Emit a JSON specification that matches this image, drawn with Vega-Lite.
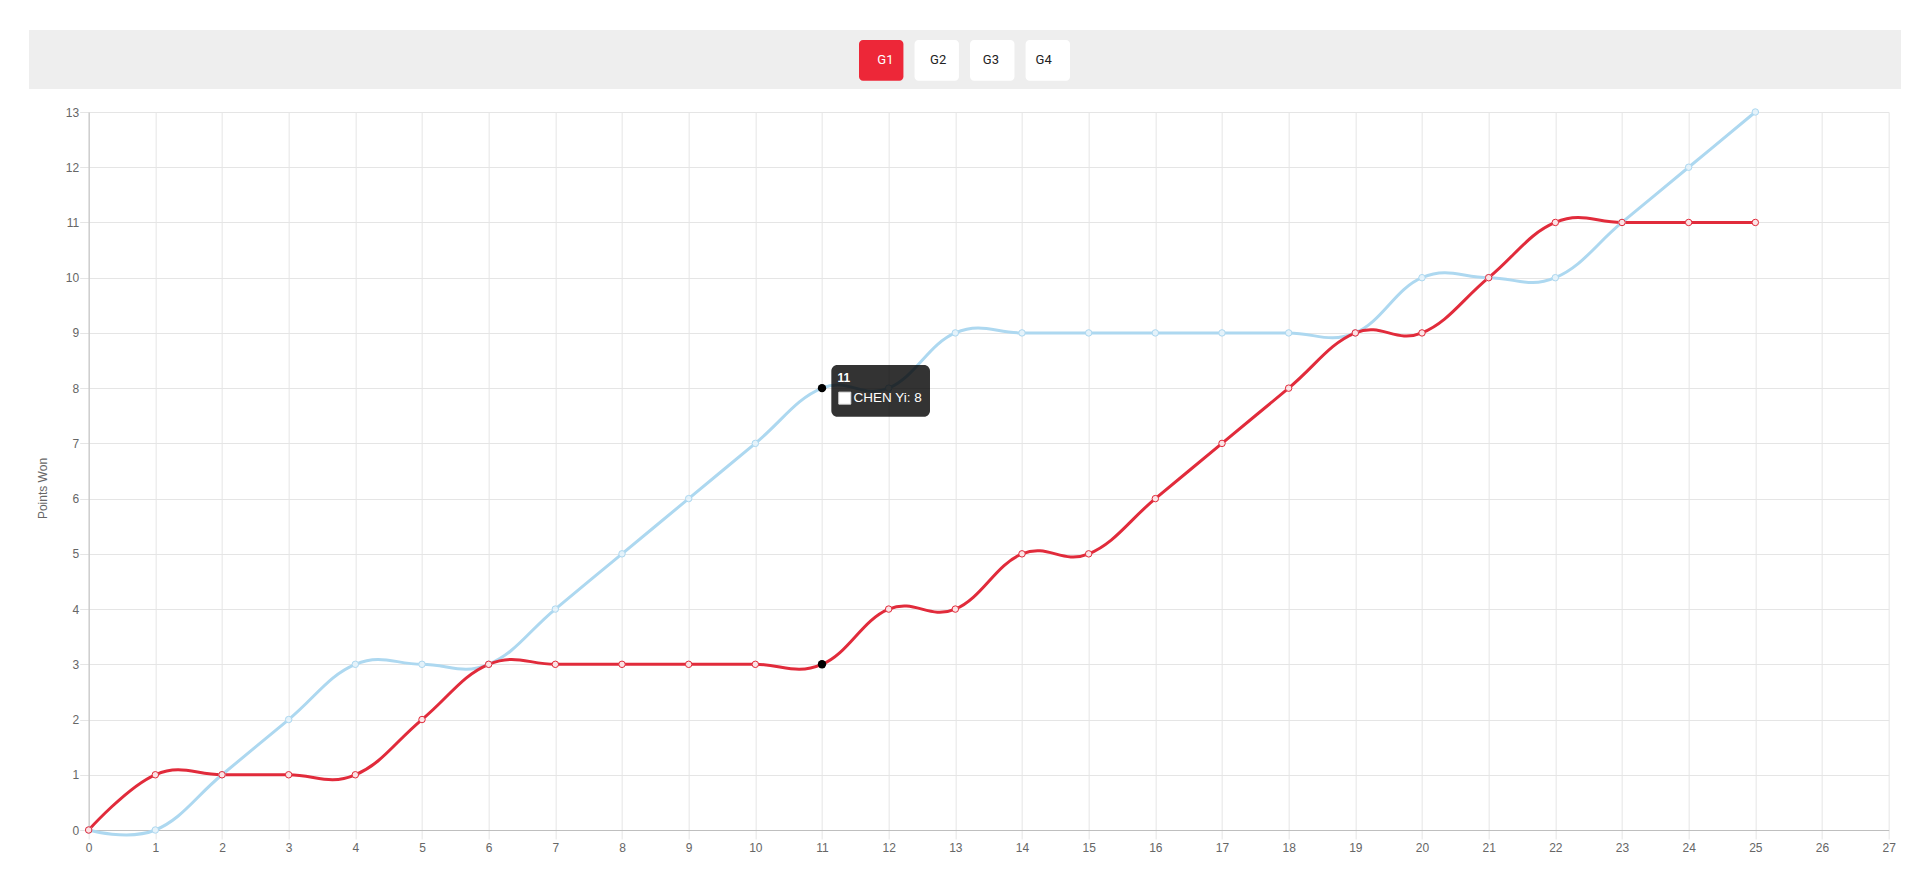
{
  "$schema": "https://vega.github.io/schema/vega-lite/v6.json",
  "padding": {"left": 29, "top": 30, "right": 0, "bottom": 0},
  "background": "white",
  "spacing": 17,
  "center": true,
  "resolve": {"scale": {"color": "independent"}},
  "config": {
    "font": "Liberation Sans",
    "view": {"stroke": null}
  },
  "datasets": {
    "games": [
      {"game": "G1", "selected": true},
      {"game": "G2", "selected": false},
      {"game": "G3", "selected": false},
      {"game": "G4", "selected": false}
    ],
    "points": [
      {"point": 0, "player": "CHEN Yi", "won": 0},
      {"point": 1, "player": "CHEN Yi", "won": 0},
      {"point": 2, "player": "CHEN Yi", "won": 1},
      {"point": 3, "player": "CHEN Yi", "won": 2},
      {"point": 4, "player": "CHEN Yi", "won": 3},
      {"point": 5, "player": "CHEN Yi", "won": 3},
      {"point": 6, "player": "CHEN Yi", "won": 3},
      {"point": 7, "player": "CHEN Yi", "won": 4},
      {"point": 8, "player": "CHEN Yi", "won": 5},
      {"point": 9, "player": "CHEN Yi", "won": 6},
      {"point": 10, "player": "CHEN Yi", "won": 7},
      {"point": 11, "player": "CHEN Yi", "won": 8},
      {"point": 12, "player": "CHEN Yi", "won": 8},
      {"point": 13, "player": "CHEN Yi", "won": 9},
      {"point": 14, "player": "CHEN Yi", "won": 9},
      {"point": 15, "player": "CHEN Yi", "won": 9},
      {"point": 16, "player": "CHEN Yi", "won": 9},
      {"point": 17, "player": "CHEN Yi", "won": 9},
      {"point": 18, "player": "CHEN Yi", "won": 9},
      {"point": 19, "player": "CHEN Yi", "won": 9},
      {"point": 20, "player": "CHEN Yi", "won": 10},
      {"point": 21, "player": "CHEN Yi", "won": 10},
      {"point": 22, "player": "CHEN Yi", "won": 10},
      {"point": 23, "player": "CHEN Yi", "won": 11},
      {"point": 24, "player": "CHEN Yi", "won": 12},
      {"point": 25, "player": "CHEN Yi", "won": 13},
      {"point": 0, "player": "Opponent", "won": 0},
      {"point": 1, "player": "Opponent", "won": 1},
      {"point": 2, "player": "Opponent", "won": 1},
      {"point": 3, "player": "Opponent", "won": 1},
      {"point": 4, "player": "Opponent", "won": 1},
      {"point": 5, "player": "Opponent", "won": 2},
      {"point": 6, "player": "Opponent", "won": 3},
      {"point": 7, "player": "Opponent", "won": 3},
      {"point": 8, "player": "Opponent", "won": 3},
      {"point": 9, "player": "Opponent", "won": 3},
      {"point": 10, "player": "Opponent", "won": 3},
      {"point": 11, "player": "Opponent", "won": 3},
      {"point": 12, "player": "Opponent", "won": 4},
      {"point": 13, "player": "Opponent", "won": 4},
      {"point": 14, "player": "Opponent", "won": 5},
      {"point": 15, "player": "Opponent", "won": 5},
      {"point": 16, "player": "Opponent", "won": 6},
      {"point": 17, "player": "Opponent", "won": 7},
      {"point": 18, "player": "Opponent", "won": 8},
      {"point": 19, "player": "Opponent", "won": 9},
      {"point": 20, "player": "Opponent", "won": 9},
      {"point": 21, "player": "Opponent", "won": 10},
      {"point": 22, "player": "Opponent", "won": 11},
      {"point": 23, "player": "Opponent", "won": 11},
      {"point": 24, "player": "Opponent", "won": 11},
      {"point": 25, "player": "Opponent", "won": 11}
    ],
    "tooltip": [
      {"point": 11, "won": 8, "header": "11", "label": "CHEN Yi: 8"}
    ]
  },
  "vconcat": [
    {
      "width": 1926,
      "height": 59,
      "view": {"stroke": null},
      "data": {"name": "games"},
      "resolve": {"scale": {"x": "independent"}},
      "layer": [
        {
          "mark": {"type": "bar", "color": "#eeeeee"},
          "encoding": {
            "x": {"datum": 0, "type": "quantitative", "scale": {"domain": [0, 1], "nice": false}, "axis": null},
            "x2": {"datum": 0.97196},
            "y": {"datum": 0, "type": "quantitative", "scale": {"domain": [0, 1]}, "axis": null},
            "y2": {"datum": 1}
          }
        },
        {
          "mark": {"type": "bar", "cornerRadius": 4},
          "encoding": {
            "x": {
              "field": "game",
              "type": "nominal",
              "axis": null,
              "scale": {"range": [830, 1041], "paddingInner": 0.2, "paddingOuter": 0}
            },
            "y": {"datum": 0.83, "type": "quantitative", "axis": null},
            "y2": {"datum": 0.14},
            "color": {
              "condition": {"test": "datum.selected", "value": "#ed2738"},
              "value": "#ffffff"
            }
          }
        },
        {
          "mark": {"type": "text", "fontSize": 13, "font": "Roboto", "baseline": "middle", "align": "center"},
          "encoding": {
            "x": {
              "field": "game",
              "type": "nominal",
              "axis": null,
              "scale": {"range": [830, 1041], "paddingInner": 0.2, "paddingOuter": 0}
            },
            "y": {"datum": 0.49, "type": "quantitative"},
            "text": {"field": "game"},
            "color": {
              "condition": {"test": "datum.selected", "value": "#ffffff"},
              "value": "#222222"
            }
          }
        }
      ]
    },
    {
      "width": 1800,
      "height": 718,
      "encoding": {
        "x": {
          "field": "point",
          "type": "quantitative",
          "scale": {"domain": [0, 27], "nice": false},
          "axis": {
            "title": null,
            "values": [0,1,2,3,4,5,6,7,8,9,10,11,12,13,14,15,16,17,18,19,20,21,22,23,24,25,26,27],
            "gridColor": "#e5e5e5",
            "tickColor": "#e5e5e5",
            "tickSize": 9,
            "domainColor": "#bfbfbf",
            "labelColor": "#666666",
            "labelFontSize": 12,
            "labelPadding": 3,
            "labelFlush": false
          }
        },
        "y": {
          "field": "won",
          "type": "quantitative",
          "scale": {"domain": [0, 13], "nice": false},
          "axis": {
            "title": "Points Won",
            "titleFontWeight": "normal",
            "titleFontSize": 12,
            "titleColor": "#666666",
            "titlePadding": 16,
            "titleY": 376,
            "values": [0,1,2,3,4,5,6,7,8,9,10,11,12,13],
            "gridColor": "#e5e5e5",
            "tickColor": "#e5e5e5",
            "tickSize": 9,
            "domainColor": "#bfbfbf",
            "labelColor": "#666666",
            "labelFontSize": 12,
            "labelPadding": 1,
            "labelFlush": false
          }
        }
      },
      "layer": [
        {
          "data": {"name": "points"},
          "mark": {"type": "line", "interpolate": "cardinal", "tension": -0.2, "strokeWidth": 3},
          "encoding": {
            "color": {
              "field": "player",
              "type": "nominal",
              "scale": {"domain": ["CHEN Yi", "Opponent"], "range": ["#add8f0", "#e12b3b"]},
              "legend": null
            }
          }
        },
        {
          "data": {"name": "points"},
          "mark": {"type": "point", "shape": "circle", "size": 42, "strokeWidth": 1, "filled": false, "opacity": 1},
          "encoding": {
            "stroke": {
              "condition": {"test": "datum.player == 'CHEN Yi'", "value": "#add8f0"},
              "value": "#e12b3b"
            },
            "fill": {
              "condition": {"test": "datum.player == 'CHEN Yi'", "value": "#e4f2fa"},
              "value": "#fbe3e5"
            }
          }
        },
        {
          "data": {"name": "points"},
          "transform": [{"filter": "datum.point == 11"}],
          "mark": {"type": "point", "shape": "circle", "size": 70, "filled": true, "color": "#000000", "opacity": 1}
        },
        {
          "data": {"name": "tooltip"},
          "mark": {"type": "rect", "cornerRadius": 6, "color": "#000000", "opacity": 0.8},
          "encoding": {
            "x": {"datum": 11.14},
            "x2": {"datum": 12.62},
            "y": {"datum": 8.42},
            "y2": {"datum": 7.48}
          }
        },
        {
          "data": {"name": "tooltip"},
          "mark": {"type": "text", "align": "left", "baseline": "alphabetic", "dx": 15.5, "dy": -6.5, "fontSize": 12, "fontWeight": "bold", "color": "#ffffff"},
          "encoding": {"text": {"field": "header"}}
        },
        {
          "data": {"name": "tooltip"},
          "mark": {"type": "point", "shape": "square", "size": 144, "filled": true, "fill": "#ffffff", "stroke": "#dddddd", "strokeWidth": 1, "opacity": 1, "xOffset": 22.8, "yOffset": 10}
        },
        {
          "data": {"name": "tooltip"},
          "mark": {"type": "text", "align": "left", "baseline": "alphabetic", "dx": 31.5, "dy": 13.5, "fontSize": 13.5, "color": "#ffffff"},
          "encoding": {"text": {"field": "label"}}
        }
      ]
    }
  ]
}
